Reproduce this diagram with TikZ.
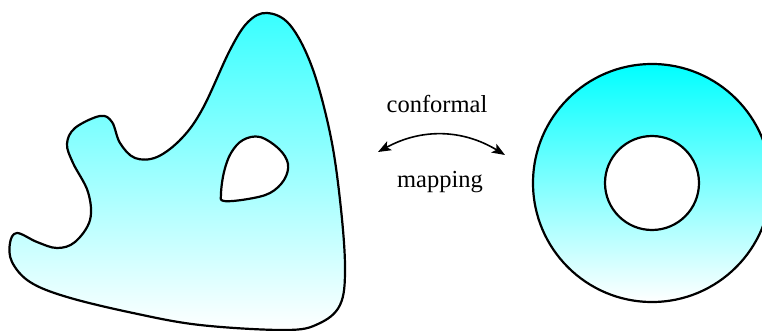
\documentclass[tikz,border=0pt]{standalone}
\usepackage{fontspec}
\setmainfont{Liberation Serif}
\usetikzlibrary{arrows.meta}

\begin{document}
\begin{tikzpicture}[x=1pt,y=-1pt,line cap=round,line join=round]
  \tikzset{
    region/.style={line width=2.2pt,top color=cyan,bottom color=white,even odd rule},
    maplabel/.style={font=\fontsize{24.5}{28}\selectfont,inner sep=0pt}
  }
  \useasboundingbox (0,0) rectangle (762,331);

  % region with one hole
  \shadedraw[region,top color=cyan!78!white] plot[smooth cycle,tension=0.6] coordinates {
    (267,13) (290,25) (312,67) (330,133) (340,200) (345,267)
    (340,305) (318,324) (285,330) (200,325) (133,313)
    (67,297) (30,282) (12,262) (10,243) (17,233) (37,242)
    (57,248) (75,242) (90,220) (88,192) (73,163) (67,144)
    (75,128) (100,116) (112,122) (120,143) (135,158)
    (157,157) (182,138) (203,108) (230,50) (248,22)
  }
  plot[smooth cycle,tension=0.6] coordinates {
    (224,201) (248,199) (270,193) (284,180) (288,164)
    (279,149) (260,137) (243,140) (231,153) (224,172) (221,194)
  };

  % annulus
  \shadedraw[region] (652,183) circle[radius=119] (652,183) circle[radius=47];

  \node[maplabel] (conf) at (437,104) {conformal};
  \node[maplabel] (mapp) at (440,182) {mapping};
  \coordinate (arrL) at (378,152);
  \coordinate (arrR) at (505,155);
  \draw[line width=1.6pt,{Stealth[length=13pt,width=10pt,inset=3pt]}-{Stealth[length=13pt,width=10pt,inset=3pt]}]
    (arrL) to[bend left=30] (arrR);
\end{tikzpicture}
\end{document}
